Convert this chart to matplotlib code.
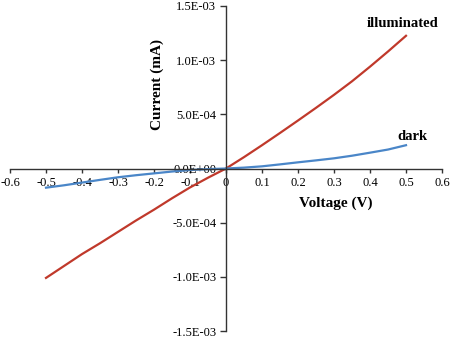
import matplotlib.pyplot as plt
import numpy as np

voltage = [-0.5, -0.45, -0.4, -0.35, -0.3, -0.25, -0.2, -0.15, -0.1, -0.05, 0.0,
           0.05, 0.1, 0.15, 0.2, 0.25, 0.3, 0.35, 0.4, 0.45, 0.5]
illuminated = [-1.01, -0.90, -0.79, -0.69, -0.585, -0.48, -0.38, -0.275, -0.175, -0.085, 0.0,
               0.105, 0.215, 0.328, 0.443, 0.56, 0.68, 0.805, 0.94, 1.08, 1.225]
dark = [-0.177, -0.155, -0.13, -0.105, -0.081, -0.062, -0.045, -0.028, -0.014, -0.006, 0.0,
        0.008, 0.02, 0.038, 0.057, 0.075, 0.094, 0.118, 0.146, 0.175, 0.215]

x_ticks = [-0.6, -0.5, -0.4, -0.3, -0.2, -0.1, 0, 0.1, 0.2, 0.3, 0.4, 0.5, 0.6]
x_labels = ['-0.6', '-0.5', '-0.4', '-0.3', '-0.2', '-0.1', '0', '0.1', '0.2', '0.3', '0.4', '0.5', '0.6']
y_ticks = [-1.5e-3, -1.0e-3, -5.0e-4, 0, 5.0e-4, 1.0e-3, 1.5e-3]
y_labels = ['-1.5E-03', '-1.0E-03', '-5.0E-04', '0.0E+00', '5.0E-04', '1.0E-03', '1.5E-03']

plt.rcParams['font.family'] = ['Liberation Serif', 'DejaVu Serif']

fig = plt.figure(figsize=(4.53, 3.40), dpi=100)
ax = fig.add_axes([10 / 453, 9 / 340, 432 / 453, 325 / 340])

ax.plot(voltage, np.array(illuminated) * 1e-3, color='#c0392b', lw=1.6)
ax.plot(voltage, np.array(dark) * 1e-3, color='#4a86c8', lw=1.6)

ax.set_xlim(-0.6, 0.6)
ax.set_ylim(-1.5e-3, 1.5e-3)
ax.spines['left'].set_position(('data', 0))
ax.spines['bottom'].set_position(('data', 0))
ax.spines['top'].set_visible(False)
ax.spines['right'].set_visible(False)
for s in ['left', 'bottom']:
    ax.spines[s].set_color('#333333')
    ax.spines[s].set_linewidth(1.0)

ax.set_xticks(x_ticks)
ax.set_xticklabels(x_labels, fontsize=9)
ax.set_yticks(y_ticks)
ax.set_yticklabels(y_labels, fontsize=9)
ax.tick_params(axis='x', direction='out', length=3, width=1, color='#333333', pad=3)
ax.tick_params(axis='y', direction='out', length=4, width=1, color='#333333', pad=3)

ax.text(0.305, -3.2e-4, 'Voltage (V)', fontsize=11, fontweight='bold', ha='center', va='center')
ax.text(-0.192, 7.8e-4, 'Current (mA)', fontsize=11, fontweight='bold', rotation=90,
        ha='center', va='center')
ax.text(0.49, 1.343e-3, 'illuminated', fontsize=10.5, fontweight='bold', ha='center', va='center')
ax.text(0.517, 3.0e-4, 'dark', fontsize=10.5, fontweight='bold', ha='center', va='center')

fig.savefig('out.png', dpi=100)
